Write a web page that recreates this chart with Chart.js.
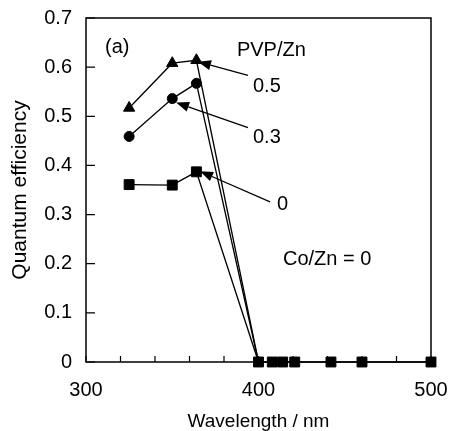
<!DOCTYPE html>
<html>
<head>
<meta charset="utf-8">
<script src="https://cdn.jsdelivr.net/npm/chart.js@4"></script>
<style>
  body { margin: 0; background: #fff; }
  #wrap { width: 453px; height: 431px; }
</style>
</head>
<body>
<div id="wrap"><canvas id="qe-chart"></canvas></div>
<script>
// measured points below 400 nm
const uvWavelengths = [325, 350, 364];
const pvp05Values = [0.517, 0.608, 0.614];
const pvp03Values = [0.459, 0.536, 0.567];
const pvp0Values = [0.361, 0.360, 0.387];

// points above the band edge (all zero)
const tailWavelengths = [400, 408, 414, 421, 442, 460, 500];
const tailValues = [0, 0, 0, 0, 0, 0, 0];

const xTicks = [300, 400, 500];
const yTicks = [0, 0.1, 0.2, 0.3, 0.4, 0.5, 0.6, 0.7];

const FONT = "'Liberation Sans', Arial, sans-serif";

const toPoints = (xs, ys) => xs.map((x, i) => ({ x: x, y: ys[i] }));

// curves with a point at 400 nm hidden behind the squares
const withEdge = (ys) => toPoints(uvWavelengths.concat([tailWavelengths[0]]), ys.concat([tailValues[0]]));

const labels = [
  { text: "(a)", x: 311, y: 0.641 },
  { text: "PVP/Zn", x: 387.5, y: 0.633 },
  { text: "0.5", x: 396.8, y: 0.561 },
  { text: "0.3", x: 396.8, y: 0.457 },
  { text: "0", x: 410.7, y: 0.32 },
  { text: "Co/Zn = 0", x: 414.2, y: 0.209 },
];

const arrows = [
  { from: [393.9, 0.583], to: [364.9, 0.611] },
  { from: [393.9, 0.477], to: [352.2, 0.528] },
  { from: [406.7, 0.326], to: [366.1, 0.388] },
];

// frame, inward ticks and the annotations
const framePlugin = {
  id: "frame",
  beforeDatasetsDraw(chart) {
    const ctx = chart.ctx;
    const xs = chart.scales.x;
    const ys = chart.scales.y;
    const a = chart.chartArea;
    ctx.save();
    ctx.strokeStyle = "#000";
    ctx.lineWidth = 1.5;
    ctx.strokeRect(a.left, a.top, a.right - a.left, a.bottom - a.top);

    ctx.lineWidth = 1.2;
    ctx.beginPath();
    for (let v = 300; v <= 500; v += 20) {
      const px = xs.getPixelForValue(v);
      ctx.moveTo(px, a.bottom);
      ctx.lineTo(px, a.bottom - 6);
    }
    yTicks.forEach((v) => {
      const py = ys.getPixelForValue(v);
      ctx.moveTo(a.left, py);
      ctx.lineTo(a.left + 9, py);
    });
    ctx.stroke();
    ctx.restore();
  },
  afterDatasetsDraw(chart) {
    const ctx = chart.ctx;
    const xs = chart.scales.x;
    const ys = chart.scales.y;
    ctx.save();
    ctx.fillStyle = "#000";
    ctx.strokeStyle = "#000";
    ctx.font = "20px " + FONT;
    ctx.textAlign = "left";
    ctx.textBaseline = "middle";
    labels.forEach((l) => {
      ctx.fillText(l.text, xs.getPixelForValue(l.x), ys.getPixelForValue(l.y));
    });

    ctx.lineWidth = 1.3;
    arrows.forEach((ar) => {
      const x1 = xs.getPixelForValue(ar.from[0]);
      const y1 = ys.getPixelForValue(ar.from[1]);
      const x2 = xs.getPixelForValue(ar.to[0]);
      const y2 = ys.getPixelForValue(ar.to[1]);
      const ang = Math.atan2(y2 - y1, x2 - x1);
      const len = 13, half = 5;
      const bx = x2 - len * Math.cos(ang);
      const by = y2 - len * Math.sin(ang);
      ctx.beginPath();
      ctx.moveTo(x1, y1);
      ctx.lineTo(bx, by);
      ctx.stroke();
      ctx.beginPath();
      ctx.moveTo(x2, y2);
      ctx.lineTo(bx + half * Math.sin(ang), by - half * Math.cos(ang));
      ctx.lineTo(bx - half * Math.sin(ang), by + half * Math.cos(ang));
      ctx.closePath();
      ctx.fill();
    });
    ctx.restore();
  },
};

const lineStyle = {
  showLine: true,
  clip: false,
  borderColor: "#000",
  backgroundColor: "#000",
  pointBackgroundColor: "#000",
  pointBorderColor: "#000",
  borderWidth: 1.3,
  pointBorderWidth: 1,
};

const qeChart = new Chart(document.getElementById("qe-chart"), {
  type: "scatter",
  data: {
    datasets: [
      {
        ...lineStyle,
        label: "0.5",
        data: withEdge(pvp05Values),
        pointStyle: "triangle",
        pointRadius: [6.5, 6.5, 6.5, 0],
        order: 3,
      },
      {
        ...lineStyle,
        label: "0.3",
        data: withEdge(pvp03Values),
        pointStyle: "circle",
        pointRadius: [5, 5, 5, 0],
        order: 2,
      },
      {
        ...lineStyle,
        label: "0",
        data: toPoints(uvWavelengths.concat(tailWavelengths), pvp0Values.concat(tailValues)),
        pointStyle: "rect",
        pointRadius: 7,
        order: 1,
      },
    ],
  },
  options: {
    responsive: true,
    maintainAspectRatio: false,
    animation: false,
    layout: { padding: { top: 18, right: 22, left: 0, bottom: 0 } },
    plugins: {
      legend: { display: false },
      tooltip: { enabled: false },
    },
    scales: {
      x: {
        type: "linear",
        min: 300,
        max: 500,
        afterFit: (s) => {
          s.height = 69;
          s.paddingLeft = 0;
          s.paddingRight = 0;
        },
        afterBuildTicks: (s) => { s.ticks = xTicks.map((v) => ({ value: v })); },
        ticks: {
          color: "#000",
          font: { family: FONT, size: 20 },
          padding: 16,
          maxRotation: 0,
          autoSkip: false,
        },
        grid: { display: false, drawTicks: false },
        border: { display: false },
        title: {
          display: true,
          text: "Wavelength / nm",
          color: "#000",
          font: { family: FONT, size: 19 },
          padding: { top: 0, bottom: -2 },
        },
      },
      y: {
        type: "linear",
        min: 0,
        max: 0.7,
        afterFit: (s) => {
          s.width = 86;
          s.paddingTop = 0;
          s.paddingBottom = 0;
        },
        afterBuildTicks: (s) => { s.ticks = yTicks.map((v) => ({ value: v })); },
        ticks: {
          color: "#000",
          font: { family: FONT, size: 20 },
          padding: 14,
          callback: (v) => (v === 0 ? "0" : v.toFixed(1)),
        },
        grid: { display: false, drawTicks: false },
        border: { display: false },
        title: {
          display: true,
          text: "Quantum efficiency",
          color: "#000",
          font: { family: FONT, size: 21 },
          padding: { top: 8, bottom: 0 },
        },
      },
    },
  },
  plugins: [framePlugin],
});
</script>
</body>
</html>
